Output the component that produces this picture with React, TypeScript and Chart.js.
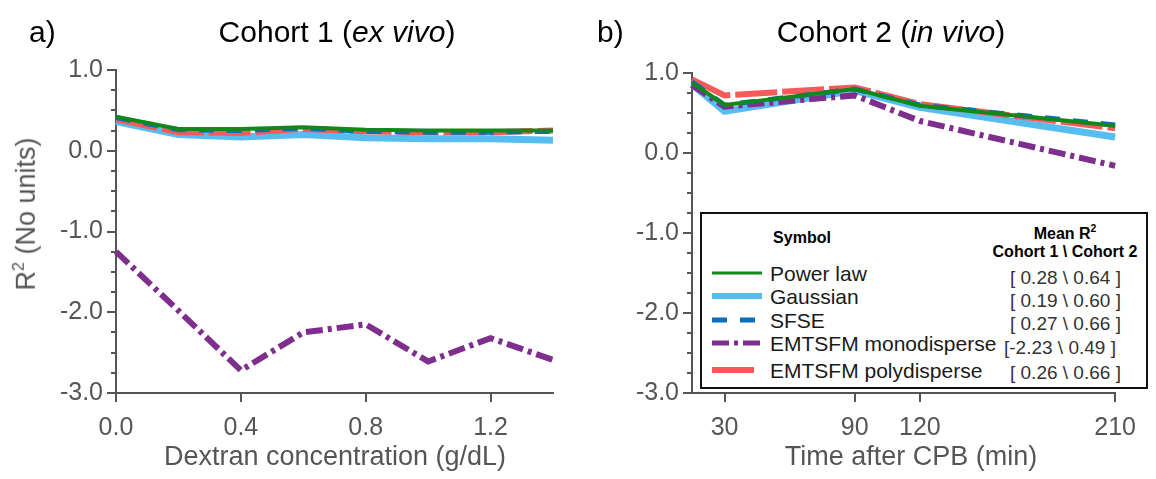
import React, { useEffect, useRef } from "react";
import { Chart, registerables } from "chart.js";

Chart.register(...registerables);

// ---------- data ----------
const leftX = [0, 0.2, 0.4, 0.6, 0.8, 1.0, 1.2, 1.4];
const leftPowerLaw = [0.42, 0.27, 0.27, 0.29, 0.26, 0.25, 0.25, 0.25];
const leftGaussian = [0.36, 0.2, 0.17, 0.2, 0.16, 0.15, 0.15, 0.13];
const leftSFSE = [0.41, 0.26, 0.25, 0.28, 0.24, 0.23, 0.23, 0.24];
const leftMono = [-1.25, -1.98, -2.72, -2.25, -2.15, -2.61, -2.32, -2.59];
const leftPoly = [0.39, 0.23, 0.22, 0.27, 0.24, 0.23, 0.23, 0.25];

const rightX = [15, 30, 90, 120, 210];
const rightPowerLaw = [0.88, 0.6, 0.8, 0.59, 0.34];
const rightGaussian = [0.86, 0.52, 0.78, 0.57, 0.2];
const rightSFSE = [0.89, 0.6, 0.8, 0.6, 0.35];
const rightMono = [0.85, 0.58, 0.72, 0.4, -0.16];
const rightPoly = [0.92, 0.72, 0.82, 0.61, 0.31];

const seriesNames = ["Power law", "Gaussian", "SFSE", "EMTSFM monodisperse", "EMTSFM polydisperse"];
const meanCohort1 = ["0.28", "0.19", "0.27", "-2.23", "0.26"];
const meanCohort2 = ["0.64", "0.60", "0.66", "0.49", "0.66"];

const leftXTicks = [0, 0.4, 0.8, 1.2];
const rightXTicks = [30, 90, 120, 210];
const yMajorTicks = [-3, -2, -1, 0, 1];
const yAllTicks = [-3, -2.75, -2.5, -2.25, -2, -1.75, -1.5, -1.25, -1, -0.75, -0.5, -0.25, 0, 0.25, 0.5, 0.75, 1];

// ---------- styles ----------
const AXIS = "#555555";
const FONT = "'Liberation Sans', Arial, Helvetica, sans-serif";
const seriesStyles = [
  { color: "#13881a", width: 4, dash: [] as number[], order: 0, legendWidth: 3, legendLen: 50 },
  { color: "#56bdee", width: 7, dash: [] as number[], order: 4, legendWidth: 6, legendLen: 50 },
  { color: "#0a6fb8", width: 5, dash: [15, 13], order: 1, legendWidth: 5, legendLen: 50 },
  { color: "#7e2f8e", width: 6, dash: [17, 5, 4, 5], order: 2, legendWidth: 5, legendLen: 50 },
  { color: "#f75a5a", width: 6, dash: [42, 5], order: 3, legendWidth: 6, legendLen: 42 },
];

const tickPlugin = {
  id: "customTicks",
  afterDraw(chart: any) {
    const { ctx, chartArea } = chart;
    const xs = chart.scales.x;
    const ys = chart.scales.y;
    ctx.save();
    ctx.strokeStyle = AXIS;
    ctx.lineWidth = 2;
    ctx.setLineDash([]);
    ys.ticks.forEach((t: any) => {
      const py = Math.round(ys.getPixelForValue(t.value));
      const len = yMajorTicks.includes(t.value) ? 9 : 5;
      ctx.beginPath();
      ctx.moveTo(chartArea.left - len, py);
      ctx.lineTo(chartArea.left, py);
      ctx.stroke();
    });
    xs.ticks.forEach((t: any) => {
      const px = Math.round(xs.getPixelForValue(t.value));
      ctx.beginPath();
      ctx.moveTo(px, chartArea.bottom);
      ctx.lineTo(px, chartArea.bottom + 9);
      ctx.stroke();
    });
    ctx.restore();
  },
};

function buildDatasets(xs: number[], series: number[][]) {
  return series.map((ys, i) => ({
    label: seriesNames[i],
    data: xs.map((x, j) => ({ x, y: ys[j] })),
    borderColor: seriesStyles[i].color,
    borderWidth: seriesStyles[i].width,
    borderDash: seriesStyles[i].dash,
    order: seriesStyles[i].order,
    pointRadius: 0,
    tension: 0,
    fill: false,
    clip: false as any,
  }));
}

function makeConfig(
  xs: number[],
  series: number[][],
  xMin: number,
  xMax: number,
  xTicks: number[],
  xFmt: (v: number) => string,
  yWidth: number,
  padTop: number,
  padRight: number
): any {
  return {
    type: "line",
    data: { datasets: buildDatasets(xs, series) },
    plugins: [tickPlugin],
    options: {
      animation: false,
      responsive: false,
      devicePixelRatio: 1,
      layout: { padding: { top: padTop, right: padRight, left: 0, bottom: 0 } },
      plugins: { legend: { display: false }, tooltip: { enabled: false }, title: { display: false } },
      scales: {
        x: {
          type: "linear",
          min: xMin,
          max: xMax,
          afterBuildTicks: (s: any) => {
            s.ticks = xTicks.map((v) => ({ value: v }));
          },
          afterFit: (s: any) => {
            s.height = 86;
          },
          grid: { display: false, drawTicks: false },
          border: { display: true, color: AXIS, width: 2 },
          ticks: {
            autoSkip: false,
            maxRotation: 0,
            padding: 20,
            color: AXIS,
            font: { family: FONT, size: 25 },
            callback: (v: any) => xFmt(Number(v)),
          },
        },
        y: {
          type: "linear",
          min: -3,
          max: 1,
          afterBuildTicks: (s: any) => {
            s.ticks = yAllTicks.map((v) => ({ value: v }));
          },
          afterFit: (s: any) => {
            s.width = yWidth;
          },
          grid: { display: false, drawTicks: false },
          border: { display: true, color: AXIS, width: 2 },
          ticks: {
            autoSkip: false,
            padding: 13,
            color: AXIS,
            font: { family: FONT, size: 25 },
            callback: (v: any) => (yMajorTicks.includes(Number(v)) ? Number(v).toFixed(1) : ""),
          },
        },
      },
    },
  };
}

function ChartPanel(props: { config: () => any; left: number }) {
  const ref = useRef<HTMLCanvasElement | null>(null);
  useEffect(() => {
    if (!ref.current) return;
    const chart = new Chart(ref.current, props.config());
    return () => chart.destroy();
  }, []);
  return (
    <canvas
      ref={ref}
      width={578}
      height={479}
      style={{ position: "absolute", left: props.left, top: 0, width: 578, height: 479 }}
    />
  );
}

function Txt(props: { x: number; y: number; size: number; children: any; align?: "left" | "center"; bold?: boolean; color?: string; rotate?: boolean }) {
  const tx = props.align === "left" ? "0" : "-50%";
  return (
    <div
      style={{
        position: "absolute",
        left: props.x,
        top: props.y,
        transform: props.rotate ? "translate(-50%,-50%) rotate(-90deg)" : `translate(${tx},-50%)`,
        fontFamily: FONT,
        fontSize: props.size,
        fontWeight: props.bold ? "bold" : "normal",
        color: props.color || "#000",
        whiteSpace: "nowrap",
        lineHeight: 1,
      }}
    >
      {props.children}
    </div>
  );
}

function Swatch(props: { idx: number; y: number }) {
  const st = seriesStyles[props.idx];
  return (
    <svg style={{ position: "absolute", left: 712 - 700, top: props.y - 212 - 6 }} width={52} height={12}>
      <line
        x1={0}
        y1={6}
        x2={st.legendLen}
        y2={6}
        stroke={st.color}
        strokeWidth={st.legendWidth}
        strokeDasharray={st.dash.length ? st.dash.join(" ") : undefined}
      />
    </svg>
  );
}

const legendRowY = [273, 296, 320, 343, 370];
const legendValY = [277, 300, 323, 347, 372];

export default function App() {
  const leftCfg = () =>
    makeConfig(
      leftX,
      [leftPowerLaw, leftGaussian, leftSFSE, leftMono, leftPoly],
      0,
      1.4,
      leftXTicks,
      (v) => v.toFixed(1),
      116,
      70,
      25
    );
  const rightCfg = () =>
    makeConfig(
      rightX,
      [rightPowerLaw, rightGaussian, rightSFSE, rightMono, rightPoly],
      15,
      210,
      rightXTicks,
      (v) => String(v),
      114,
      73,
      27
    );
  return (
    <div style={{ position: "fixed", left: 0, top: 0, width: 1156, height: 479, background: "#fff", overflow: "hidden" }}>
      <ChartPanel config={leftCfg} left={0} />
      <ChartPanel config={rightCfg} left={578} />

      <Txt x={29} y={32} size={30} align="left">a)</Txt>
      <Txt x={337} y={32} size={30}>
        Cohort 1 (<i>ex vivo</i>)
      </Txt>
      <Txt x={597} y={32} size={30} align="left">b)</Txt>
      <Txt x={891} y={32} size={30}>
        Cohort 2 (<i>in vivo</i>)
      </Txt>

      <Txt x={25} y={214} size={27} color={AXIS} rotate>
        R<sup style={{ fontSize: "0.6em", verticalAlign: "0.7em" }}>2</sup> (No units)
      </Txt>
      <Txt x={335} y={456} size={27} color={AXIS}>
        Dextran concentration (g/dL)
      </Txt>
      <Txt x={911} y={456} size={27} color={AXIS}>
        Time after CPB (min)
      </Txt>

      <div
        style={{
          position: "absolute",
          left: 700,
          top: 212,
          width: 448,
          height: 177,
          boxSizing: "border-box",
          border: "2px solid #111",
          background: "#fff",
        }}
      >
        <div style={{ position: "absolute", left: -702, top: -214 }}>
          <Txt x={802} y={238} size={16} bold>
            Symbol
          </Txt>
          <Txt x={1065} y={233} size={16} bold>
            Mean R<sup style={{ fontSize: "0.65em", verticalAlign: "0.6em" }}>2</sup>
          </Txt>
          <Txt x={1065} y={252} size={16} bold>
            Cohort 1 \ Cohort 2
          </Txt>
          {seriesNames.map((name, i) => (
            <Txt key={"n" + i} x={770} y={legendRowY[i]} size={21} align="left" color="#1a1a1a">
              {name}
            </Txt>
          ))}
          {seriesNames.map((name, i) => (
            <Txt
              key={"v" + i}
              x={meanCohort1[i].startsWith("-") ? 1004 : 1010}
              y={legendValY[i]}
              size={19}
              align="left"
              color="#333"
            >
              {meanCohort1[i].startsWith("-")
                ? `[${meanCohort1[i]} \\ ${meanCohort2[i]} ]`
                : `[ ${meanCohort1[i]} \\ ${meanCohort2[i]} ]`}
            </Txt>
          ))}
        </div>
        <div style={{ position: "absolute", left: -2, top: -2 }}>
          {seriesNames.map((name, i) => (
            <Swatch key={"s" + i} idx={i} y={legendRowY[i]} />
          ))}
        </div>
      </div>
    </div>
  );
}
